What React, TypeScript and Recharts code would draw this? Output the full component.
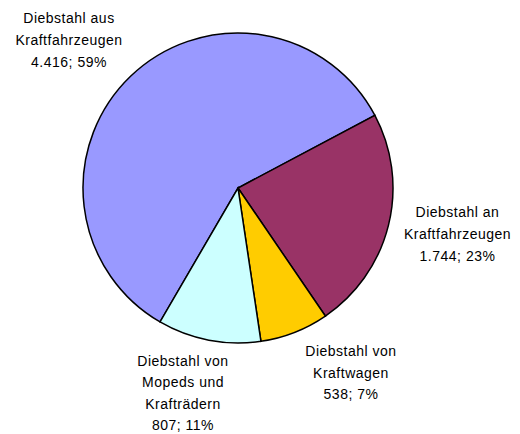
import React from "react";
import { PieChart, Pie, Cell } from "recharts";

// Diebstahl-Delikte (Anzahl Fälle)
const categories = [
  "Diebstahl aus\nKraftfahrzeugen",
  "Diebstahl an\nKraftfahrzeugen",
  "Diebstahl von\nKraftwagen",
  "Diebstahl von\nMopeds und\nKrafträdern",
];
const cases = [4416, 1744, 538, 807];
const colors = ["#9999FF", "#993366", "#FFCC00", "#CCFFFF"];

const data = categories.map((name, i) => ({ name, value: cases[i] }));
const total = cases.reduce((a, b) => a + b, 0);

// label anchors relative to the pie centre (Excel put them by hand)
const labelOffsets = [
  [-169, -148],
  [219.5, 46],
  [113, 184.5],
  [-55, 205],
];

const LINE_H = 21.6;

function renderLabel(props: any) {
  const { cx, cy, index, value, name } = props;
  const [dx, dy] = labelOffsets[index];
  const pct = Math.round((value / total) * 100);
  const lines = [
    ...String(name).split("\n"),
    `${value.toLocaleString("de-DE")}; ${pct}%`,
  ];
  const x = cx + dx;
  const y0 = cy + dy - ((lines.length - 1) * LINE_H) / 2;
  return (
    <text
      x={x}
      y={y0}
      textAnchor="middle"
      dominantBaseline="central"
      fill="#000"
      fontSize={14}
      letterSpacing={0.5}
      fontFamily="'Liberation Sans', Arial, sans-serif"
    >
      {lines.map((l, i) => (
        <tspan key={i} x={x} y={y0 + i * LINE_H}>
          {l}
        </tspan>
      ))}
    </text>
  );
}

export default function App() {
  return (
    <div style={{ position: "absolute", left: 0, top: 0, background: "#fff" }}>
      <PieChart
        width={520}
        height={434}
        margin={{ top: 0, right: 0, bottom: 0, left: 0 }}
      >
        <Pie
          data={data}
          dataKey="value"
          nameKey="name"
          cx={238}
          cy={188}
          outerRadius={155}
          startAngle={239.8}
          endAngle={-120.2}
          stroke="#000"
          strokeWidth={1.5}
          label={renderLabel}
          labelLine={false}
          isAnimationActive={false}
        >
          {data.map((entry, index) => (
            <Cell key={`cell-${index}`} fill={colors[index]} />
          ))}
        </Pie>
      </PieChart>
    </div>
  );
}
